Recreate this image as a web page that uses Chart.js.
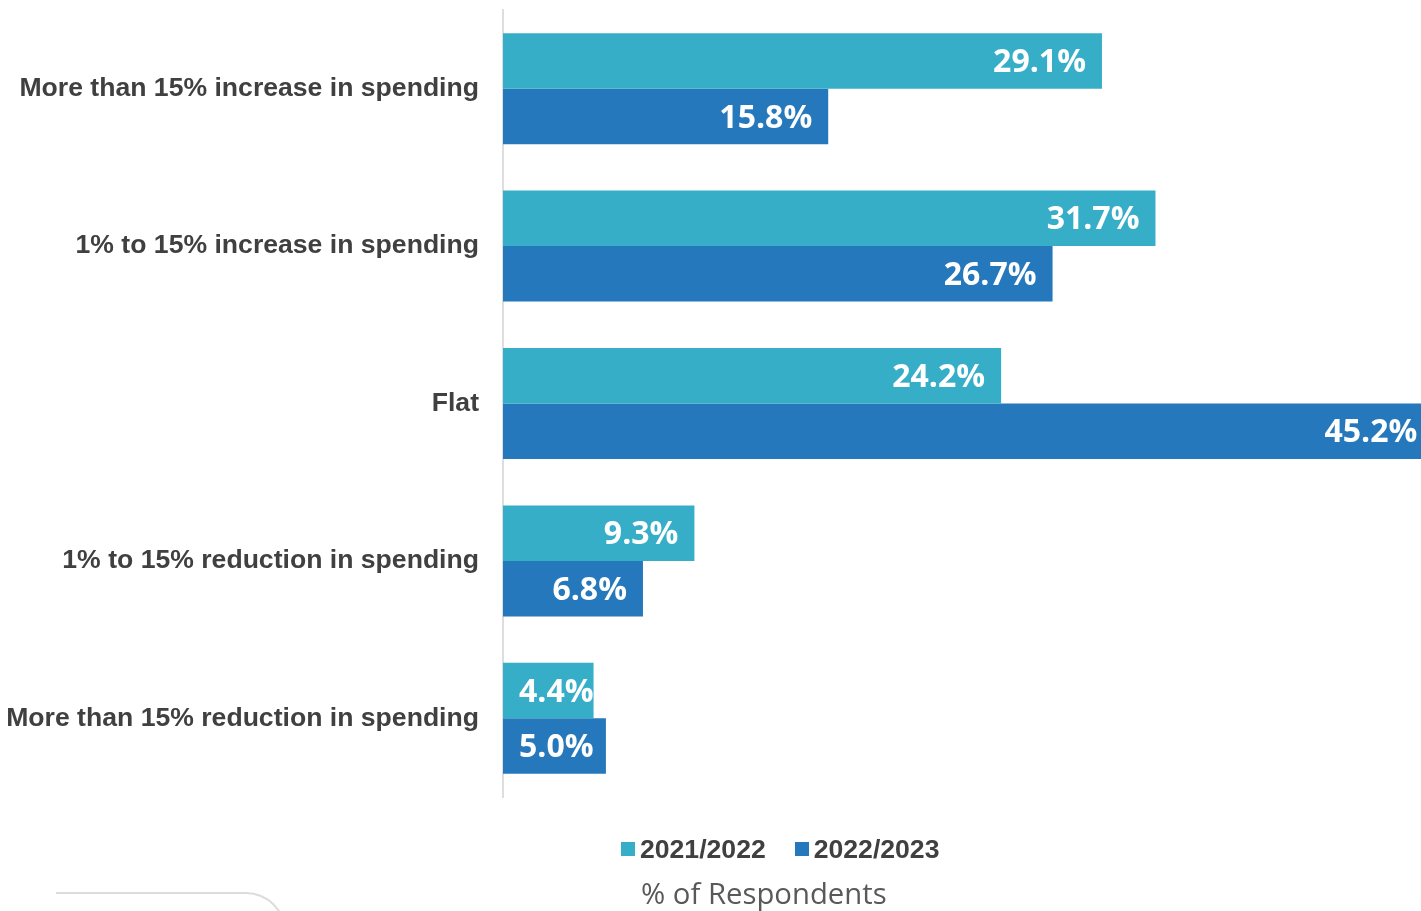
<!DOCTYPE html>
<html>
<head>
<meta charset="utf-8">
<script src="https://cdn.jsdelivr.net/npm/chart.js"></script>
<style>
  body { margin: 0; background: #fff; overflow: hidden; }
  #wrap { position: relative; width: 1421px; height: 911px; }
  #legend { position: absolute; top: 832px; left: 621px; font: bold 26.6px "Liberation Sans", Arial, sans-serif; color: #404040; white-space: nowrap; }
  #legend span.item { display: inline-flex; align-items: center; margin-right: 29px; }
  #legend i { display: inline-block; width: 14px; height: 14px; margin-right: 5px; }
  #xtitle { position: absolute; top: 873px; left: 641px; font: 29.3px "Open Sans", sans-serif; color: #595959; white-space: nowrap; }
  #deco { position: absolute; left: 56px; top: 892px; width: 228px; height: 60px; border-top: 2px solid #dcdcdc; border-right: 2px solid #dcdcdc; border-top-right-radius: 40px; }
</style>
</head>
<body>
<div id="wrap">
  <canvas id="chart" width="1421" height="911"></canvas>
  <div id="legend"></div>
  <div id="xtitle">% of Respondents</div>
  <div id="deco"></div>
</div>
<script>
const categories = [
  "More than 15% increase in spending",
  "1% to 15% increase in spending",
  "Flat",
  "1% to 15% reduction in spending",
  "More than 15% reduction in spending"
];
const seriesNames = ["2021/2022", "2022/2023"];
const values2122 = [29.1, 31.7, 24.2, 9.3, 4.4];
const values2223 = [15.8, 26.7, 45.2, 6.8, 5.0];
const colors = ["#37aec8", "#2478bb"];

// legend as html
const legend = document.getElementById("legend");
seriesNames.forEach((name, i) => {
  legend.innerHTML += `<span class="item"><i style="background:${colors[i]}"></i>${name}</span>`;
});

// value labels at the bar end, pushed inside the bar
const barLabels = {
  id: "barLabels",
  afterDatasetsDraw(chart) {
    const ctx = chart.ctx;
    ctx.save();
    ctx.font = "bold 32px 'Open Sans', sans-serif";
    ctx.fillStyle = "#fff";
    ctx.textBaseline = "middle";
    ctx.textAlign = "left";
    chart.data.datasets.forEach((ds, di) => {
      chart.getDatasetMeta(di).data.forEach((bar, i) => {
        const text = ds.data[i].toFixed(1) + "%";
        const w = ctx.measureText(text).width;
        let x = bar.x - 16 - w;
        if (x < bar.base + 16) x = bar.base + 16;
        ctx.fillText(text, x, bar.y + 2);
      });
    });
    ctx.restore();
  }
};

new Chart(document.getElementById("chart"), {
  type: "bar",
  data: {
    labels: categories,
    datasets: [
      { label: seriesNames[0], data: values2122, backgroundColor: colors[0] },
      { label: seriesNames[1], data: values2223, backgroundColor: colors[1] }
    ]
  },
  options: {
    indexAxis: "y",
    responsive: false,
    animation: false,
    layout: { padding: { top: 10, bottom: 114, left: 0, right: 0 } },
    datasets: { bar: { categoryPercentage: 0.705, barPercentage: 1 } },
    plugins: { legend: { display: false }, tooltip: { enabled: false } },
    scales: {
      x: { display: false, min: 0, max: 44.6 },
      y: {
        grid: { display: false, drawTicks: false },
        border: { display: true, color: "#dedede", width: 2 },
        ticks: {
          padding: 24,
          color: "#404040",
          font: { family: "'Liberation Sans', Arial, sans-serif", weight: "bold", size: 26.6 }
        },
        afterFit(scale) {
          scale.width = 503;
          scale.paddingTop = 0;
          scale.paddingBottom = 0;
        }
      }
    }
  },
  plugins: [barLabels]
});
</script>
</body>
</html>
